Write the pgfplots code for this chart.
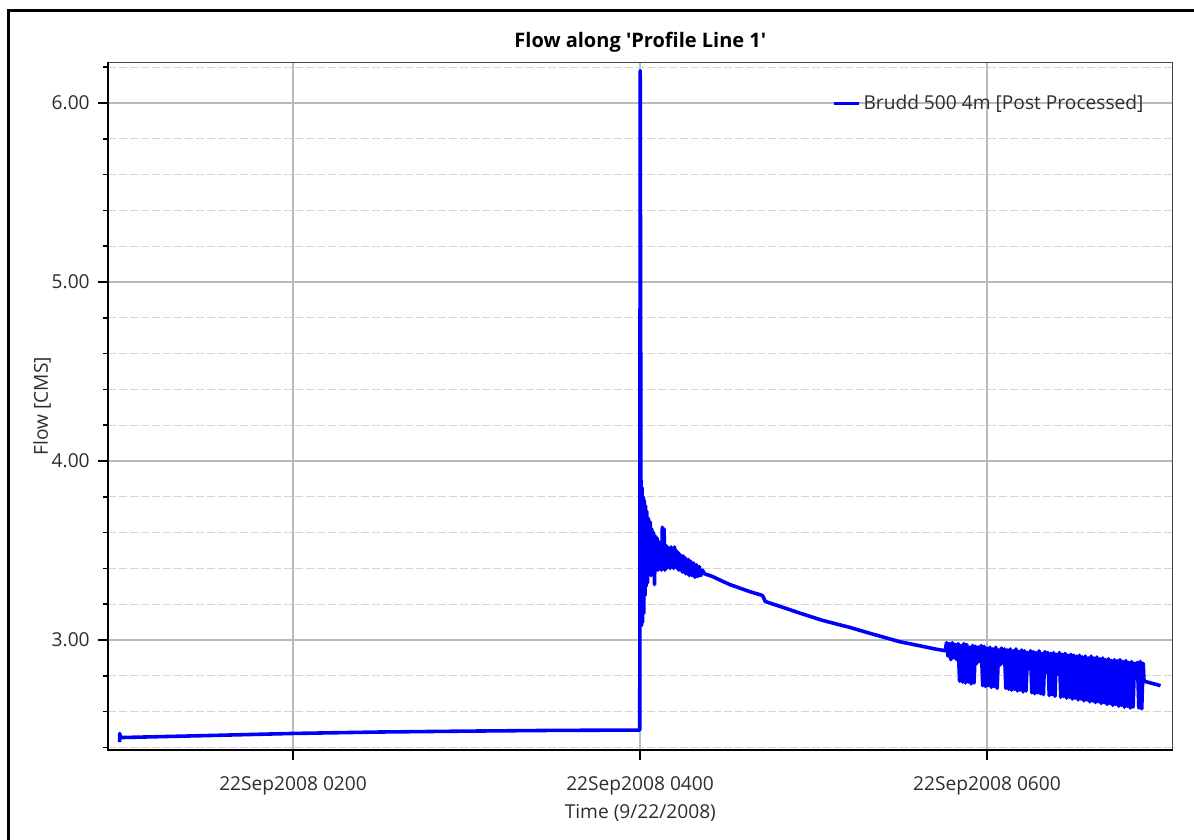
\documentclass[border=0pt]{standalone}
\usepackage{fontspec}
\setmainfont{Open Sans}
\usepackage{pgfplots}
\pgfplotsset{compat=1.18}
\definecolor{majgrid}{RGB}{185,185,185}
\definecolor{mingrid}{RGB}{214,214,214}
\definecolor{txt}{RGB}{45,45,45}
\definecolor{flow}{RGB}{0,0,250}
\begin{document}
\begin{tikzpicture}
\useasboundingbox (0,0) rectangle (716.4pt,503.4pt);
\draw[black, line width=1.6pt] (5pt,-5pt) -- (5pt,497pt) -- (725pt,497pt);
\begin{axis}[
  name=ax,
  at={(64.8pt,53.4pt)}, anchor=south west,
  scale only axis, width=638.8pt, height=412.6pt,
  xmin=56, xmax=424.2, ymin=2.3855, ymax=6.227,
  font=\fontsize{11.5}{13.8}\selectfont,
  /pgf/number format/assume math mode=true,
  xtick={120,240,360},
  xticklabels={22Sep2008 0200,22Sep2008 0400,22Sep2008 0600},
  ytick={3,4,5,6},
  minor ytick={2.4,2.6,2.8,3.2,3.4,3.6,3.8,4.2,4.4,4.6,4.8,5.2,5.4,5.6,5.8,6.2},
  y tick label style={/pgf/number format/fixed,/pgf/number format/fixed zerofill,/pgf/number format/precision=2,
     anchor=east, inner sep=0pt, xshift=-4.8pt, text=txt},
  x tick label style={anchor=base, yshift=-18.2pt, inner sep=0pt, text=txt},
  xmajorgrids, ymajorgrids, yminorgrids,
  major grid style={majgrid, line width=0.9pt},
  minor grid style={mingrid, line width=0.75pt, dash pattern=on 5pt off 1.6pt},
  tick align=outside, tick pos=left,
  major tick length=6pt, minor tick length=3pt,
  tick style={black, line width=0.9pt},
  axis line style={draw=black!72, line width=0.9pt},
  title={Flow along \textquotesingle Profile Line 1\textquotesingle},
  title style={at={(axis description cs:0.5,1.0072)}, anchor=base, inner sep=0pt,
     font=\fontsize{12}{14}\selectfont\bfseries, text=black},
  xlabel={Time (9/22/2008)},
  xlabel style={at={(axis description cs:0.5,-0.099)}, anchor=base, inner sep=0pt, text=txt},
  ylabel={Flow [CMS]},
  ylabel style={at={(axis description cs:-0.0564,0.5)}, anchor=base, inner sep=0pt, text=txt},
  legend style={at={(axis description cs:0.976,0.9408)}, anchor=east, draw=none, fill=none,
     inner sep=0pt, text=txt, font=\fontsize{11.5}{13.8}\selectfont},
  legend image code/.code={\draw[#1, line width=1.8pt] (-3pt,0pt) -- (12pt,0pt);},
]
\addplot[flow, line width=2.15pt, line join=round] coordinates {
(60.0,2.43) (60.05,2.478) (60.3,2.455) (90,2.466) (120,2.478) (150,2.486) (180,2.491) (210,2.495) (239.9,2.497)
(240.05,6.18) (240.3,3.95) (240.5,3.08) (240.7,3.85) (240.9,3.10) (241.1,3.80) (241.3,3.15) (241.5,3.78)
(241.7,3.25) (241.9,3.75) (242.1,3.30) (242.3,3.72) (242.6,3.32) (242.9,3.68) (243.2,3.38) (243.5,3.66)
(243.8,3.36) (244.1,3.62) (244.4,3.40) (244.7,3.60) (245.0,3.31) (245.3,3.58) (245.6,3.41) (245.9,3.57)
(246.2,3.39) (246.5,3.55) (246.8,3.43) (247.1,3.54) (247.4,3.39) (247.7,3.63) (248.0,3.41) (248.3,3.62)
(248.6,3.39) (248.9,3.53) (249.2,3.40) (249.5,3.52) (249.8,3.41) (250.1,3.51) (250.4,3.40) (250.7,3.52)
(251.0,3.41) (251.3,3.50) (251.6,3.40) (251.9,3.52) (252.2,3.41) (252.5,3.50) (252.8,3.40) (253.1,3.49)
(253.4,3.39) (253.7,3.48) (254.0,3.40) (254.3,3.47) (254.6,3.38) (254.9,3.47) (255.2,3.38) (255.5,3.46)
(255.8,3.37) (256.1,3.45) (256.4,3.37) (256.7,3.45) (257.0,3.36) (257.5,3.44) (258.0,3.36) (258.5,3.43)
(259.0,3.35) (259.5,3.42) (260.0,3.355) (260.5,3.41) (261.0,3.36) (261.6,3.39) (262.3,3.37) (265,3.355)
(267.6,3.335) (271,3.31) (274.5,3.29) (278,3.27) (282.1,3.25) (282.5,3.245) (283.3,3.215) (288,3.19)
(295.3,3.15) (303,3.11) (312.6,3.07) (320,3.035) (329.9,2.99) (336,2.97) (342,2.95) (345.5,2.94)
(346.0,2.985) (346.5,2.91) (347.0,2.98) (347.5,2.89) (348.0,2.985) (348.5,2.90) (349.0,2.975) (349.5,2.89)
(350.0,2.98) (350.5,2.77) (351.0,2.97) (351.5,2.765) (352.0,2.98) (352.5,2.76) (353.0,2.975) (353.5,2.765)
(354.0,2.96) (354.5,2.755) (355.0,2.97) (355.5,2.76) (356.0,2.965) (356.5,2.87) (357.0,2.96) (357.5,2.88)
(358.0,2.97) (358.5,2.745) (359.0,2.965) (359.5,2.74) (360.0,2.955) (360.5,2.745) (361.0,2.96) (361.5,2.735)
(362.0,2.95) (362.5,2.74) (363.0,2.96) (363.5,2.73) (364.0,2.945) (364.5,2.86) (365.0,2.955) (365.5,2.87)
(366.0,2.95) (366.5,2.73) (367.0,2.945) (367.5,2.725) (368.0,2.95) (368.5,2.72) (369.0,2.94) (369.5,2.725)
(370.0,2.95) (370.5,2.715) (371.0,2.935) (371.5,2.72) (372.0,2.945) (372.5,2.71) (373.0,2.94) (373.5,2.715)
(374.0,2.93) (374.5,2.84) (375.0,2.94) (375.5,2.705) (376.0,2.935) (376.5,2.70) (377.0,2.93) (377.5,2.705)
(378.0,2.94) (378.5,2.70) (379.0,2.925) (379.5,2.695) (380.0,2.935) (380.5,2.82) (381.0,2.93) (381.5,2.69)
(382.0,2.925) (382.5,2.695) (383.0,2.93) (383.5,2.685) (384.0,2.92) (384.5,2.81) (385.0,2.93) (385.5,2.68)
(386.0,2.92) (386.5,2.685) (387.0,2.925) (387.5,2.675) (388.0,2.915) (388.5,2.68) (389.0,2.92) (389.5,2.67)
(390.0,2.915) (390.5,2.675) (391.0,2.91) (391.5,2.665) (392.0,2.915) (392.5,2.67) (393.0,2.905) (393.5,2.66)
(394.0,2.91) (394.5,2.665) (395.0,2.90) (395.5,2.655) (396.0,2.91) (396.5,2.66) (397.0,2.90) (397.5,2.65)
(398.0,2.905) (398.5,2.655) (399.0,2.895) (399.5,2.645) (400.0,2.90) (400.5,2.65) (401.0,2.89) (401.5,2.64)
(402.0,2.895) (402.5,2.645) (403.0,2.885) (403.5,2.635) (404.0,2.89) (404.5,2.64) (405.0,2.885) (405.5,2.63)
(406.0,2.89) (406.5,2.635) (407.0,2.88) (407.5,2.625) (408.0,2.885) (408.5,2.63) (409.0,2.875) (409.5,2.62)
(410.0,2.88) (410.5,2.625) (411.0,2.87) (411.5,2.80) (412.0,2.875) (412.5,2.62) (413.0,2.88) (413.5,2.615)
(414.0,2.87) (414.3,2.77) (420.0,2.745)
};
\addlegendentry{Brudd 500 4m [Post Processed]}
\end{axis}
\draw[black, line width=1.6pt] (ax.north west) -- (ax.south west) -- (ax.south east);
\end{tikzpicture}
\end{document}
